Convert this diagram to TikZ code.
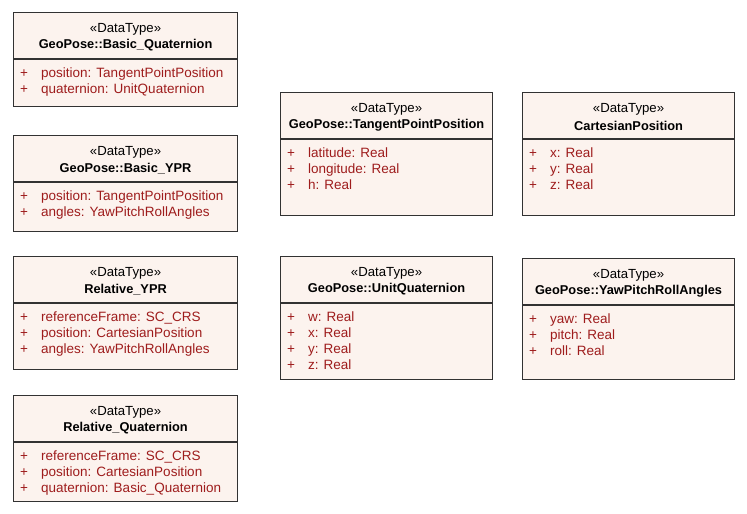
\documentclass[tikz,border=0pt]{standalone}
\usepackage{fontspec}
\setmainfont{Liberation Sans}
\usetikzlibrary{calc, positioning}

\definecolor{classfill}{RGB}{252,243,238}
\definecolor{classedge}{RGB}{50,50,50}
\definecolor{attrred}{RGB}{158,28,28}

% one UML data type: name, top left, width, height, title, attributes
\newcommand{\datatype}[6]{%
  \node[classbox, minimum width=#3pt, minimum height=#4pt] (#1) at #2 {};
  \node[stereo] (#1-st) at ($(#1.north)+(0,17.5)$) {«DataType»};
  \node[classname] (#1-nm) at ($(#1.north)+(0,33.5)$) {#5};
  \draw[classline] ($(#1.north west)+(0,47)$) -- ($(#1.north east)+(0,47)$);
  \foreach \att [count=\i] in {#6} {
    \node[attr] (#1-a\i) at ($(#1.north west)+(7,46+16*\i)$) {\makebox[21pt][l]{+}\att};
  }%
}

\begin{document}
\begin{tikzpicture}[
  x=1pt, y=-1pt,
  classbox/.style = {draw=classedge, line width=1.1pt, fill=classfill, anchor=north west, inner sep=0pt},
  classline/.style = {draw=classedge, line width=1.1pt},
  stereo/.style = {font=\fontsize{13.2}{16}\selectfont, inner sep=0pt},
  classname/.style = {font=\bfseries\fontsize{12.8}{16}\selectfont, inner sep=0pt},
  attr/.style = {font=\fontsize{13.5}{16}\selectfont, text=attrred, anchor=west, inner sep=0pt,
                 text height=9.6pt, text depth=2.9pt}
]
\useasboundingbox (0,0) rectangle (747,514);

% left column
\datatype{bq}{(13,12)}{224}{94}{GeoPose::Basic\_Quaternion}
  {position: TangentPointPosition, quaternion: UnitQuaternion}
\datatype{bypr}{(13,135)}{224}{96}{GeoPose::Basic\_YPR}
  {position: TangentPointPosition, angles: YawPitchRollAngles}
\datatype{rypr}{(13,256)}{224}{113}{Relative\_YPR}
  {referenceFrame: SC\_CRS, position: CartesianPosition, angles: YawPitchRollAngles}
\datatype{rq}{(13,395)}{224}{106}{Relative\_Quaternion}
  {referenceFrame: SC\_CRS, position: CartesianPosition, quaternion: Basic\_Quaternion}

% middle and right columns
\datatype{tpp}{(280,92)}{212}{123}{GeoPose::TangentPointPosition}
  {latitude: Real, longitude: Real, h: Real}
\datatype{cp}{(522,92)}{212}{123}{CartesianPosition}
  {x: Real, y: Real, z: Real}
\datatype{uq}{(280,256)}{212}{123}{GeoPose::UnitQuaternion}
  {w: Real, x: Real, y: Real, z: Real}
\datatype{ypr}{(522,258)}{212}{121}{GeoPose::YawPitchRollAngles}
  {yaw: Real, pitch: Real, roll: Real}

\end{tikzpicture}
\end{document}
